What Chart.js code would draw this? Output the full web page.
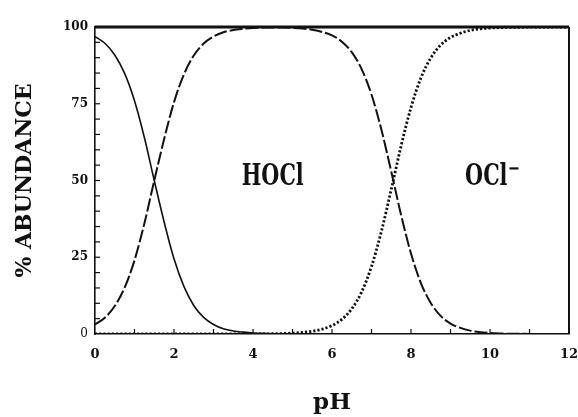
<!DOCTYPE html>
<html>
<head>
<meta charset="utf-8">
<script src="https://cdn.jsdelivr.net/npm/chart.js@4.4.1/dist/chart.umd.min.js"></script>
<style>
  html, body { margin: 0; padding: 0; background: #fff; }
  #wrap { width: 578px; height: 417px; }
</style>
</head>
<body>
<div id="wrap"><canvas id="species_chart"></canvas></div>
<script>
// pH grid, step 0.25
var phValues = [];
for (var i = 0; i <= 48; i++) phValues.push(i / 4);

// % abundance
var cl2 = [96.9, 94.7, 90.9, 84.9, 76.0, 64.0, 50.0, 36.5, 24.5, 15.5, 9.3, 5.4, 3.1, 1.7, 1.0, 0.6,
           0.3, 0.2, 0.1, 0, 0, 0, 0, 0, 0, 0, 0, 0, 0, 0, 0, 0,
           0, 0, 0, 0, 0, 0, 0, 0, 0, 0, 0, 0, 0, 0, 0, 0, 0];
var hocl = [3.1, 5.3, 9.1, 15.1, 24.0, 36.0, 50.0, 63.5, 75.5, 84.5, 90.7, 94.6, 96.9, 98.3, 99.0, 99.4,
            99.7, 99.8, 99.8, 99.8, 99.7, 99.5, 99.1, 98.4, 97.3, 95.2, 91.8, 86.3, 78.0, 66.6, 52.9, 38.7,
            26.2, 16.6, 10.1, 5.9, 3.4, 2.0, 1.1, 0.6, 0.35, 0.2, 0.1, 0.1, 0, 0, 0, 0, 0];
var ocl = [0, 0, 0, 0, 0, 0, 0, 0, 0, 0, 0, 0, 0, 0, 0, 0,
           0, 0, 0.1, 0.16, 0.28, 0.5, 0.88, 1.56, 2.74, 4.77, 8.2, 13.7, 22.0, 33.4, 47.1, 61.3,
           73.8, 83.4, 89.9, 94.1, 96.6, 98.0, 98.9, 99.4, 99.65, 99.8, 99.9, 99.9, 100, 100, 100, 100, 100];

var yTicks = [0, 25, 50, 75, 100];
var xTicks = [0, 2, 4, 6, 8, 10, 12];

function points(arr) {
    return arr.map(function (v, i) { return { x: phValues[i], y: v }; });
}

var INK = '#111';
var TYPE = '"DejaVu Serif", serif';

// frame, inner tick marks and species labels
var decor = {
    id: 'decor',
    afterDatasetsDraw: function (chart) {
        var ctx = chart.ctx, a = chart.chartArea;
        var xs = chart.scales.x, ys = chart.scales.y;
        ctx.save();
        ctx.strokeStyle = INK;
        // top and right border
        ctx.lineWidth = 3;
        ctx.beginPath(); ctx.moveTo(a.left, a.top); ctx.lineTo(a.right, a.top); ctx.stroke();
        ctx.lineWidth = 2;
        ctx.beginPath(); ctx.moveTo(a.right, a.top); ctx.lineTo(a.right, a.bottom); ctx.stroke();
        // inner ticks
        ctx.lineWidth = 1.2;
        for (var p = 1; p < 12; p++) {
            var px = xs.getPixelForValue(p);
            ctx.beginPath(); ctx.moveTo(px, a.bottom); ctx.lineTo(px, a.bottom - 5); ctx.stroke();
        }
        for (var v = 5; v < 100; v += 5) {
            var py = ys.getPixelForValue(v);
            ctx.beginPath(); ctx.moveTo(a.left, py); ctx.lineTo(a.left + 5, py); ctx.stroke();
        }
        // labels
        ctx.fillStyle = INK;
        ctx.font = 'bold 23px ' + TYPE;
        ctx.textBaseline = 'middle';
        var sx = 0.9;
        function label(text, pH, val, align) {
            ctx.save();
            ctx.translate(xs.getPixelForValue(pH), ys.getPixelForValue(val));
            ctx.scale(sx, 1.3);
            ctx.textAlign = align;
            ctx.fillText(text, 0, 0);
            ctx.restore();
        }
        label('HOCl', 4.5, 51, 'center');
        label('OCl', 9.37, 51, 'left');
        var ex = xs.getPixelForValue(9.37) + ctx.measureText('OCl').width * sx + 2;
        var ey = ys.getPixelForValue(51) - 9;
        ctx.lineWidth = 2.2;
        ctx.beginPath(); ctx.moveTo(ex, ey); ctx.lineTo(ex + 9, ey); ctx.stroke();
        ctx.restore();
    }
};

new Chart(document.getElementById('species_chart').getContext('2d'), {
    type: 'line',
    data: {
        datasets: [{
            label: 'Cl2',
            data: points(cl2),
            borderColor: INK,
            borderWidth: 1.6,
            pointRadius: 0,
            cubicInterpolationMode: 'monotone'
        }, {
            label: 'HOCl',
            data: points(hocl),
            borderColor: INK,
            borderWidth: 2,
            borderDash: [13, 3],
            pointRadius: 0,
            cubicInterpolationMode: 'monotone'
        }, {
            label: 'OCl-',
            data: points(ocl),
            borderColor: INK,
            borderWidth: 2.8,
            borderDash: [2.2, 2],
            pointRadius: 0,
            cubicInterpolationMode: 'monotone'
        }]
    },
    options: {
        responsive: true,
        maintainAspectRatio: false,
        animation: false,
        layout: { padding: { top: 27, right: 9, left: 0, bottom: 0 } },
        plugins: { legend: { display: false }, tooltip: { enabled: false } },
        scales: {
            x: {
                type: 'linear',
                min: 0, max: 12,
                afterBuildTicks: function (s) { s.ticks = xTicks.map(function (v) { return { value: v }; }); },
                afterFit: function (s) { s.height = 83; s.paddingLeft = 0; s.paddingRight = 0; },
                grid: { display: false, drawTicks: false },
                border: { display: true, color: INK, width: 1.6 },
                ticks: { color: INK, padding: 13, font: { family: TYPE, size: 13, weight: 'bold' } },
                title: { display: true, text: 'pH', color: INK, padding: 0,
                         font: { family: TYPE, size: 23, weight: 'bold' } }
            },
            y: {
                min: 0, max: 100,
                afterBuildTicks: function (s) { s.ticks = yTicks.map(function (v) { return { value: v }; }); },
                afterFit: function (s) { s.width = 95; s.paddingTop = 0; s.paddingBottom = 0; },
                grid: { display: false, drawTicks: false },
                border: { display: true, color: INK, width: 1.6 },
                ticks: {
                    color: INK, padding: 7,
                    font: function (c) {
                        return { family: TYPE, size: 12, weight: c.tick && c.tick.value === 0 ? 'normal' : 'bold' };
                    }
                },
                title: { display: true, text: '% ABUNDANCE', color: INK, padding: { top: 12, bottom: 0 },
                         font: { family: TYPE, size: 22, weight: 'bold' } }
            }
        }
    },
    plugins: [decor]
});
</script>
</body>
</html>
